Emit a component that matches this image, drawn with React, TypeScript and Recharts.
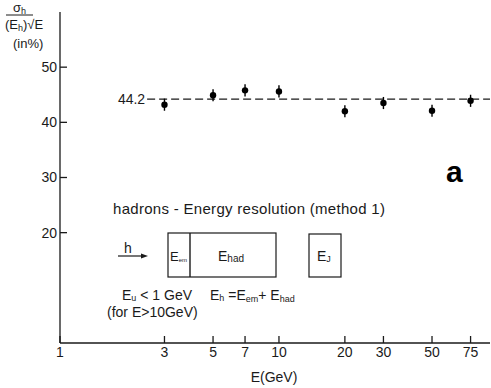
import React from 'react';
import { ComposedChart, Scatter, XAxis, YAxis, ErrorBar, ReferenceLine } from 'recharts';

const energies = [3, 5, 7, 10, 20, 30, 50, 75];
const resolution = [43.2, 44.9, 45.8, 45.6, 42.0, 43.5, 42.1, 43.9];
const errors = [1.1, 1.1, 1.1, 1.1, 1.1, 1.1, 1.1, 1.1];
const xTicks = [1, 3, 5, 7, 10, 20, 30, 50, 75];
const yTicks = [20, 30, 40, 50];
const meanValue = 44.2;
const meanStart = 2.5;
const xDomain = [1, 92];
const yDomain = [0, 60];

const data = energies.map((e, i) => ({ x: e, y: resolution[i], err: errors[i] }));

const FONT = '"Liberation Sans", Arial, sans-serif';
const INK = '#1a1a1a';

export default function App() {
  return (
    <div style={{ position: 'absolute', left: 0, top: 0, width: 491, height: 388, background: '#fff' }}>
      <ComposedChart width={491} height={388} data={data} margin={{ top: 12, right: 1, bottom: 15, left: 20 }}>
        <XAxis
          xAxisId="b"
          dataKey="x"
          type="number"
          scale="log"
          domain={xDomain}
          ticks={xTicks}
          allowDataOverflow
          height={30}
          tickSize={-7}
          tickMargin={11}
          stroke={INK}
          strokeWidth={1.3}
          tick={{ fill: INK, fontSize: 14, fontFamily: FONT }}
          interval={0}
        />
        <XAxis
          xAxisId="t"
          orientation="top"
          dataKey="x"
          type="number"
          scale="log"
          domain={xDomain}
          ticks={xTicks}
          allowDataOverflow
          height={0}
          tickSize={-7}
          tick={false}
          stroke={INK}
          strokeWidth={1.3}
          interval={0}
        />
        <YAxis
          yAxisId="l"
          type="number"
          domain={yDomain}
          ticks={yTicks}
          width={40}
          tickSize={-7}
          tickMargin={10}
          stroke={INK}
          strokeWidth={1.3}
          tick={{ fill: INK, fontSize: 14, fontFamily: FONT }}
          interval={0}
        />
        <YAxis
          yAxisId="r"
          orientation="right"
          type="number"
          domain={yDomain}
          ticks={yTicks}
          width={0}
          tickSize={-4}
          tick={false}
          axisLine={false}
          stroke={INK}
          interval={0}
        />
        <ReferenceLine
          xAxisId="b"
          yAxisId="l"
          segment={[{ x: meanStart, y: meanValue }, { x: xDomain[1], y: meanValue }]}
          stroke={INK}
          strokeWidth={1.2}
          strokeDasharray="8 4"
          ifOverflow="visible"
          label={{ value: String(meanValue), position: 'left', offset: 2, fill: INK, fontSize: 14, fontFamily: FONT }}
        />
        <Scatter
          xAxisId="b"
          yAxisId="l"
          dataKey="y"
          fill="#000"
          isAnimationActive={false}
          shape={(p: any) => <circle cx={p.cx} cy={p.cy} r={3.2} fill="#000" />}
        >
          <ErrorBar dataKey="err" direction="y" width={0} stroke="#000" strokeWidth={1.4} />
        </Scatter>
      </ComposedChart>
      <svg
        width={491}
        height={388}
        style={{ position: 'absolute', left: 0, top: 0, pointerEvents: 'none' }}
        fontFamily={FONT}
        fill={INK}
      >
        {/* y-axis label */}
        <text x={13} y={12} fontSize={13}>σ<tspan fontSize={9} dy={2}>h</tspan></text>
        <line x1={6} y1={15} x2={33} y2={15} stroke={INK} strokeWidth={1} />
        <text x={5} y={29} fontSize={13}>(E<tspan fontSize={9} dy={2}>h</tspan><tspan dy={-2}>)√E</tspan></text>
        <text x={13} y={48} fontSize={13}>(in%)</text>

        {/* panel letter */}
        <text x={446} y={182} fontSize={30} fontWeight="bold" fill="#000">a</text>

        {/* title inside plot */}
        <text x={113} y={214} fontSize={15} textLength={272} lengthAdjust="spacing">hadrons - Energy resolution (method 1)</text>

        {/* detector sketch */}
        <text x={124} y={253} fontSize={14}>h</text>
        <line x1={118} y1={256} x2={144} y2={256} stroke={INK} strokeWidth={1.2} />
        <polygon points="148,256 141,253.5 141,258.5" fill={INK} />
        <rect x={168} y={233} width={108} height={44} fill="none" stroke={INK} strokeWidth={1.2} />
        <line x1={190} y1={233} x2={190} y2={277} stroke={INK} strokeWidth={1.4} />
        <text x={170} y={261} fontSize={13}>E<tspan fontSize={6} dy={1}>em</tspan></text>
        <text x={218} y={261} fontSize={14}>E<tspan fontSize={10} dy={1}>had</tspan></text>
        <rect x={309} y={234} width={32} height={43} fill="none" stroke={INK} strokeWidth={1.2} />
        <text x={317} y={261} fontSize={14}>E<tspan fontSize={9} dy={1}>J</tspan></text>

        <text x={122} y={300} fontSize={14}>E<tspan fontSize={9} dy={1}>u</tspan><tspan dy={-1}> &lt; 1 GeV</tspan></text>
        <text x={210} y={300} fontSize={14}>E<tspan fontSize={9} dy={1}>h</tspan><tspan dy={-1}> =E</tspan><tspan fontSize={9} dy={2}>em</tspan><tspan dy={-2}>+ E</tspan><tspan fontSize={9} dy={2}>had</tspan></text>
        <text x={107} y={317} fontSize={14}>(for E&gt;10GeV)</text>

        {/* x-axis title */}
        <text x={274} y={382} fontSize={14} textAnchor="middle">E(GeV)</text>
      </svg>
    </div>
  );
}
